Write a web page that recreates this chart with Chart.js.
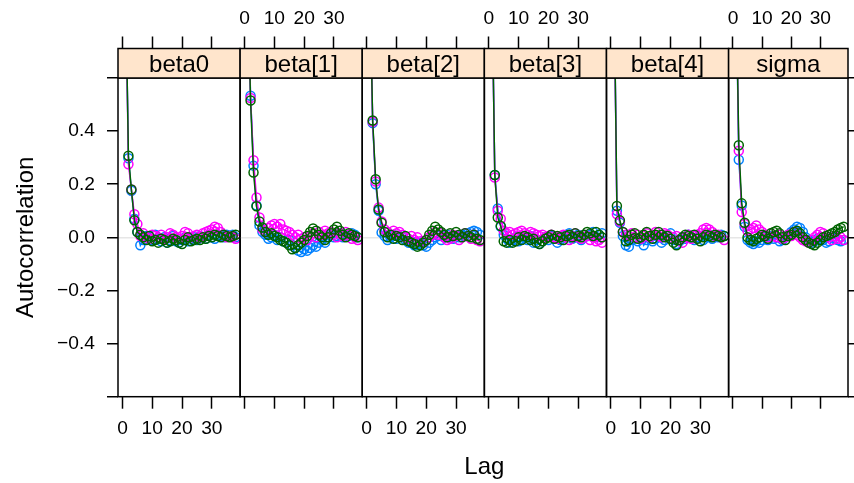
<!DOCTYPE html>
<html><head><meta charset="utf-8">
<script src="https://cdn.jsdelivr.net/npm/chart.js@4/dist/chart.umd.min.js"></script>
<style>
html,body{margin:0;padding:0;background:#fff;}
#wrap{position:relative;width:854px;height:483px;overflow:hidden;background:#fff;}
#wrap canvas{position:absolute;left:0;top:0;}
</style></head><body>
<div id="wrap">
<canvas id="c0" width="854" height="483"></canvas>
<canvas id="c1" width="854" height="483"></canvas>
<canvas id="c2" width="854" height="483"></canvas>
<canvas id="c3" width="854" height="483"></canvas>
<canvas id="c4" width="854" height="483"></canvas>
<canvas id="c5" width="854" height="483"></canvas>
</div>
<script>
// ---- data ----
const panelNames = ['beta0', 'beta[1]', 'beta[2]', 'beta[3]', 'beta[4]', 'sigma'];
const seriesNames = ['chain 1', 'chain 2', 'chain 3'];
const seriesColors = ['#0080ff', '#ff00ff', '#006400'];
const lagPositions = [1,2,3,4,5,6,7,8,9,10,11,12,13,14,15,16,17,18,19,20,21,22,23,24,25,26,27,28,29,30,31,32,33,34,35,36,37,38];
const xTickValues = [0, 10, 20, 30];
const xTickLabels = ['0', '10', '20', '30'];
const yTickValues = [-0.6, -0.4, -0.2, 0, 0.2, 0.4, 0.6];
const yTickLabels = ['', '\u22120.4', '\u22120.2', '0.0', '0.2', '0.4', ''];

const beta0Chain1 = [1,0.298,0.175,0.07,0.02,-0.03,-0.01,0.005,0,-0.01,0.01,-0.005,-0.015,0,-0.02,-0.01,0.005,-0.015,-0.02,-0.01,0,-0.015,-0.005,0,-0.01,0.005,0,-0.005,0.01,0,-0.005,0.01,0.005,0,0.01,0.005,0.01,0];
const beta0Chain2 = [1,0.275,0.18,0.087,0.05,0.005,0.015,0,-0.005,0.01,0.005,0,0.01,-0.005,0,0.015,0.01,0,-0.005,0.005,0.02,0.015,0,0.005,0.01,0,0.015,0.02,0.025,0.03,0.04,0.035,0.02,0.01,0,0.005,0,-0.005];
const beta0Chain3 = [1,0.307,0.18,0.064,0.02,0.01,0,-0.01,0.005,-0.015,-0.01,-0.02,-0.005,-0.01,-0.02,-0.015,-0.005,-0.01,-0.02,-0.025,-0.01,0,-0.015,-0.01,-0.005,-0.01,0,-0.005,0.005,0,0.01,0.005,0,0.01,0.005,0,0.005,0.01];

const beta1Chain1 = [1,0.533,0.27,0.12,0.045,0.02,0.01,-0.005,0,0.01,-0.01,0,-0.015,-0.02,-0.01,-0.03,-0.04,-0.05,-0.055,-0.045,-0.05,-0.04,-0.03,-0.035,-0.02,-0.01,-0.02,0,0.01,0,0.005,0.015,0,0.01,0.005,0.015,0.01,0];
const beta1Chain2 = [1,0.525,0.29,0.15,0.075,0.03,0.02,0.035,0.045,0.05,0.04,0.05,0.03,0.025,0.02,0.01,0,0.01,-0.005,0,-0.01,0.005,0.015,0,0.02,0.01,0.025,0.015,0.02,0.01,0,0.015,0.005,0.02,0.01,-0.005,0,-0.01];
const beta1Chain3 = [1,0.515,0.244,0.117,0.06,0.037,0.02,0.01,0.015,0.005,0,-0.01,-0.015,-0.02,-0.03,-0.045,-0.04,-0.03,-0.02,-0.01,0.005,0.02,0.033,0.025,0.01,0,-0.01,0,0.015,0.03,0.04,0.025,0.01,0,0.015,0.01,0.005,0];

const beta2Chain1 = [1,0.43,0.2,0.1,0.018,0.005,-0.01,0,0.01,-0.005,0.005,0,-0.01,-0.02,-0.015,-0.03,-0.025,-0.02,-0.03,-0.035,-0.02,-0.01,0,0.005,-0.01,0,0.01,0,-0.005,0.005,0,0.01,0.005,0.015,0.02,0.025,0.02,0.01];
const beta2Chain2 = [1,0.435,0.21,0.112,0.06,0.03,0.02,0.01,0.025,0.015,0.02,0.01,0,-0.005,0.005,-0.01,0,-0.015,-0.02,-0.01,0,0.01,0.02,0.01,0.015,0,-0.01,-0.005,0.01,0.005,-0.01,0,0.015,0.005,-0.005,0.01,-0.01,-0.015];
const beta2Chain3 = [1,0.44,0.219,0.105,0.055,0.02,0,0.01,-0.005,0.005,0,-0.01,0.005,-0.015,-0.02,-0.025,-0.035,-0.03,-0.02,-0.01,0.01,0.025,0.04,0.03,0.02,0.01,0,0.015,0.005,0.02,0.01,0,0.015,0.005,0,0.01,-0.005,-0.01];

const beta3Chain1 = [1,0.235,0.109,0.04,0.01,-0.005,-0.02,-0.01,0,-0.015,-0.005,0,-0.01,0.005,-0.02,-0.01,-0.025,-0.015,0,-0.01,0.005,-0.005,-0.02,-0.01,0,0.01,0.015,-0.005,0,0.01,-0.01,0,0.005,0.01,0.02,0,0.01,0.015];
const beta3Chain2 = [1,0.225,0.1,0.07,0.025,0.015,0.02,0.01,0.015,0.02,0.025,0.015,0.01,0.02,0.015,0.01,0.005,0.01,0,0.005,0.01,0,-0.005,0.005,0.01,0,-0.01,0.005,0.015,0,-0.005,0.01,0.005,-0.01,0,-0.015,-0.01,-0.02];
const beta3Chain3 = [1,0.235,0.075,0.043,-0.015,-0.02,-0.01,-0.02,-0.015,0,-0.01,0.005,0,-0.01,-0.005,-0.02,-0.025,-0.015,-0.005,0,0.01,-0.005,0.005,0,-0.01,0.005,0.01,0,0.015,0.005,0,0.01,0.02,0.015,0.005,0.02,0.01,0];

const beta4Chain1 = [1,0.1,0.055,0.005,-0.03,-0.035,-0.01,0,-0.015,-0.005,-0.03,-0.01,0,-0.015,-0.005,0,-0.02,-0.01,0.005,0.015,-0.01,-0.025,-0.015,0,-0.005,0.01,0,-0.01,0,0.005,-0.01,0,0.01,-0.005,0.005,0,0.01,0.005];
const beta4Chain2 = [1,0.087,0.06,0.02,0.01,0.005,0.015,0,0.01,-0.005,0.005,0.015,0,0.01,0.02,0.005,0,0.015,0.01,-0.005,0,0.005,-0.01,-0.02,0,0.01,-0.005,0.005,0.01,0.015,0.03,0.035,0.03,0.02,0.005,0.01,0,-0.01];
const beta4Chain3 = [1,0.118,0.064,0.02,-0.015,-0.01,0.01,0.015,-0.005,0,0.01,0.02,0.005,-0.005,0.01,0.02,0.01,0,0.005,-0.005,-0.02,-0.03,-0.01,0,0.01,0.005,0,0.01,-0.005,-0.015,0,0.01,0.005,0,0.01,0.005,0,0.005];

const sigmaChain1 = [1,0.292,0.12,0.04,-0.01,-0.02,-0.025,-0.015,-0.02,-0.01,0,-0.01,0.005,-0.005,0,-0.015,-0.01,0,0.01,0.02,0.03,0.04,0.035,0.02,0,-0.01,-0.02,-0.015,-0.005,0,-0.01,-0.02,-0.015,0,-0.005,-0.01,-0.015,-0.01];
const sigmaChain2 = [1,0.326,0.095,0.05,0.025,0.03,0.035,0.045,0.03,0.02,0.01,0,0.015,0.005,0,0.01,-0.005,0,0.01,0.005,0.02,0.01,0,-0.01,-0.015,-0.02,-0.01,0,0.01,0.02,0.015,0.005,0,-0.01,0.005,-0.005,0,-0.01];
const sigmaChain3 = [1,0.347,0.128,0.055,0,-0.01,-0.015,-0.005,0,0.01,0.005,-0.005,0.015,0.02,0.025,0.015,0,-0.01,0.005,0.01,0.02,0.025,0.015,0,-0.01,-0.02,-0.025,-0.03,-0.02,-0.01,0,0.005,0.01,0.015,0.02,0.03,0.035,0.04];

const panelSeries = [
  [beta0Chain1, beta0Chain2, beta0Chain3],
  [beta1Chain1, beta1Chain2, beta1Chain3],
  [beta2Chain1, beta2Chain2, beta2Chain3],
  [beta3Chain1, beta3Chain2, beta3Chain3],
  [beta4Chain1, beta4Chain2, beta4Chain3],
  [sigmaChain1, sigmaChain2, sigmaChain3]
];

// ---- layout ----
const W = 854, H = 483;
const firstPanelLeft = 118, panelWidth = 122.12;
const stripTop = 48.5, panelTop = 78, panelBottom = 396.7;
const LW = 1.5;
const FONT = '"Liberation Sans", Arial, Helvetica, sans-serif';
Chart.defaults.font.family = FONT;
Chart.defaults.color = '#000';

panelNames.forEach((name, i) => {
  const left = firstPanelLeft + i * panelWidth;
  const right = left + panelWidth;
  const framePlugin = {
    id: 'frame' + i,
    afterDatasetsDraw(chart) {
      const {ctx, chartArea: a} = chart;
      const st = chart.scales.strip;
      ctx.save();
      ctx.strokeStyle = '#000';
      ctx.lineWidth = LW;
      ctx.strokeRect(a.left, a.top, a.right - a.left, a.bottom - a.top);
      ctx.fillStyle = '#ffe5cc';
      ctx.fillRect(a.left, st.top, a.right - a.left, st.bottom - st.top);
      ctx.strokeRect(a.left, st.top, a.right - a.left, st.bottom - st.top);
      ctx.fillStyle = '#000';
      ctx.font = '24px ' + FONT;
      ctx.textAlign = 'center';
      ctx.textBaseline = 'alphabetic';
      ctx.fillText(name, (a.left + a.right) / 2, st.bottom - 6);
      if (i === 0) {
        ctx.fillText('Lag', firstPanelLeft + 3 * panelWidth, 474);
      }
      ctx.restore();
    }
  };
  const xCommon = (pos, showLabels, pad) => ({
    type: 'linear', position: pos, min: -1.5, max: 39.5,
    afterBuildTicks: s => { s.ticks = xTickValues.map(v => ({value: v})); },
    ticks: {autoSkip: false, maxRotation: 0, minRotation: 0, padding: pad, font: {size: 19.2}, color: '#000',
            callback: (v, idx) => showLabels ? xTickLabels[idx] : ''},
    grid: {drawOnChartArea: false, drawTicks: true, tickLength: 12, tickColor: '#000', tickWidth: LW},
    border: {display: false}
  });
  const xb = xCommon('bottom', i % 2 === 0, 8);
  xb.afterFit = s => { s.height = H - panelBottom; };
  const xt = xCommon('top', i % 2 === 1, 6);
  xt.weight = 10;
  xt.afterFit = s => { s.height = stripTop; };

  new Chart(document.getElementById('c' + i), {
    type: 'line',
    data: {
      datasets: panelSeries[i].map((vals, k) => ({
        label: seriesNames[k],
        data: lagPositions.map((x, j) => ({x: x, y: vals[j]})),
        borderColor: seriesColors[k],
        backgroundColor: 'rgba(0,0,0,0)',
        pointBorderColor: seriesColors[k],
        pointBackgroundColor: 'rgba(0,0,0,0)',
        pointRadius: 4.5,
        pointBorderWidth: LW,
        borderWidth: LW,
        tension: 0,
        fill: false,
        order: 2 - k,
        xAxisID: 'x',
        yAxisID: 'y'
      }))
    },
    options: {
      responsive: false, animation: false, devicePixelRatio: 1, events: [],
      layout: {padding: {left: i === 0 ? 0 : left, right: i === 5 ? 0 : W - right, top: 0, bottom: 0}},
      plugins: {legend: {display: false}, tooltip: {enabled: false}},
      scales: {
        x: xb,
        xt: xt,
        strip: {
          type: 'linear', position: 'top', weight: 0, display: true,
          afterFit: s => { s.height = panelTop - stripTop; },
          ticks: {display: false}, grid: {display: false}, border: {display: false}
        },
        y: {
          type: 'linear', position: i === 5 ? 'right' : 'left', min: -0.6, max: 0.6,
          afterBuildTicks: s => { s.ticks = yTickValues.map(v => ({value: v})); },
          afterFit: s => { s.width = i === 0 ? firstPanelLeft : (i === 5 ? W - right : 0); },
          ticks: {display: i === 0, padding: 12, font: {size: 19.2}, color: '#000',
                  callback: (v, idx) => yTickLabels[idx]},
          grid: {
            drawOnChartArea: true,
            color: c => (c.tick && c.tick.value === 0) ? '#e6e6e6' : 'rgba(0,0,0,0)',
            lineWidth: LW,
            drawTicks: i === 0 || i === 5, tickLength: 11, tickColor: '#000', tickWidth: LW
          },
          border: {display: false},
          title: i === 0 ? {display: true, text: 'Autocorrelation', font: {size: 24}, color: '#000', padding: {top: 12, bottom: 0}} : {display: false}
        }
      }
    },
    plugins: [framePlugin]
  });
});
</script>
</body></html>
